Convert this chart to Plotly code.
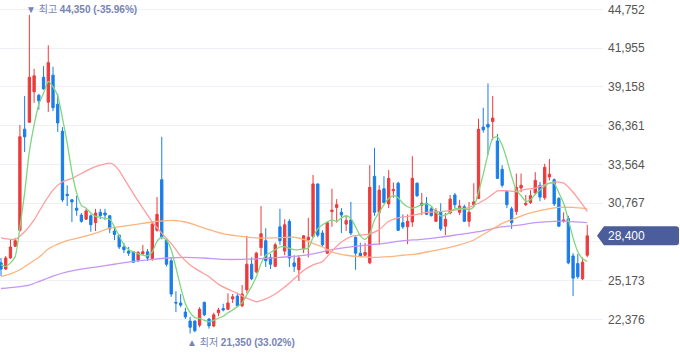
import plotly.graph_objects as go

# ---------------- data ----------------
open_ = [26450, 26000, 26800, 27650, 28800, 36100, 36600, 38800, 38550, 39850,
         38050, 40000, 37900, 35950, 31400, 31000, 30400, 29900, 29600, 29850,
         29350, 30100, 30050, 29850, 28750, 28450, 27600, 27300, 27250, 26650,
         27100, 27250, 26750, 28800, 32450, 28100, 26600, 23600, 23550, 22900,
         22250, 22250, 21950, 23600, 22400, 21900, 22850, 23150, 23100, 23850,
         24050, 23350, 24500, 26350, 25800, 27550, 28050, 26850, 26200, 29050,
         27300, 29450, 26450, 25950, 27450, 28100, 28350, 32150, 28600, 27150,
         30150, 30450, 30100, 29250, 29550, 28300, 27150, 27000, 26450, 32700,
         30100, 31800, 30700, 31650, 32200, 29350, 29050, 29400, 32200, 30600,
         30750, 30350, 29450, 30100, 29100, 30050, 31350, 30100, 30500, 29450,
         30650, 31100, 36250, 36450, 36650, 35250, 33200, 31600, 30350, 30150,
         31850, 30650, 30800, 31500, 32050, 31150, 32650, 32450, 31100, 29450,
         29650, 26950, 26400, 25300, 27000]
high = [26800, 26950, 28100, 28250, 36400, 38500, 44350, 40450, 38650, 40650,
        42150, 40600, 38650, 36250, 32050, 31050, 31300, 30050, 30350, 29950,
        30350, 30350, 30350, 29900, 29050, 28450, 27900, 27600, 27300, 27300,
        27750, 27450, 29400, 31200, 35550, 28100, 26850, 24400, 24200, 23200,
        22550, 22300, 23250, 23650, 22450, 22850, 23200, 23500, 24250, 24200,
        24300, 24850, 28400, 26850, 27250, 30550, 28950, 27100, 27900, 30350,
        29600, 29600, 27000, 27000, 28450, 29700, 32800, 32150, 28800, 29450,
        31800, 31050, 30400, 29850, 30850, 28350, 27900, 27900, 33500, 34750,
        32050, 32700, 33150, 32250, 32300, 29950, 29950, 34150, 32250, 31500,
        31200, 30500, 30400, 30750, 30050, 31350, 31500, 31000, 30650, 30850,
        32200, 36850, 37650, 39400, 38500, 35750, 33500, 31700, 30500, 32900,
        32900, 31350, 31700, 33000, 32300, 33600, 33950, 32550, 31200, 30100,
        29850, 27150, 27100, 26850, 29200]
low = [25500, 25950, 26750, 27600, 28700, 34450, 36550, 38000, 37500, 38950,
       37350, 37400, 35900, 30850, 30550, 29400, 29850, 29350, 29550, 28700,
       28750, 29600, 29550, 28600, 28100, 27450, 27150, 26950, 26450, 26500,
       27050, 26600, 26600, 28700, 28150, 26200, 24000, 22900, 23250, 22400,
       21350, 21450, 21800, 22600, 21700, 21800, 22600, 22950, 23050, 23550,
       23250, 23250, 24250, 25200, 25700, 26950, 26150, 26000, 26150, 27750,
       27000, 26150, 25800, 25150, 27150, 26850, 28250, 28300, 27600, 27100,
       29050, 29350, 28600, 28750, 28450, 25950, 26850, 26950, 26350, 29850,
       27750, 30750, 30400, 31150, 28750, 28900, 27800, 29050, 31200, 29900,
       29900, 29800, 29400, 28750, 28450, 29950, 30400, 29900, 29400, 29050,
       30500, 31050, 35850, 34250, 35300, 32500, 31900, 30400, 28900, 29900,
       31550, 30550, 30700, 31350, 30900, 31000, 32400, 30550, 29050, 29350,
       26350, 24050, 25300, 25200, 26850]
close = [26000, 26800, 27600, 28050, 35550, 35550, 39850, 39950, 38150, 39000,
         40900, 37650, 36550, 31000, 31300, 30850, 30250, 29450, 30200, 29200,
         30050, 29850, 29900, 28900, 28500, 27600, 27400, 27150, 26500, 27200,
         27250, 26800, 29250, 29950, 28300, 26350, 24200, 23550, 23400, 22550,
         21800, 21550, 23100, 22700, 21900, 22700, 23050, 23050, 23550, 24000,
         23350, 24200, 26350, 25300, 27150, 28550, 26600, 26350, 27750, 28050,
         29200, 26800, 26200, 26800, 28400, 28300, 32150, 28450, 27750, 29350,
         30250, 30650, 29900, 29500, 28600, 27150, 26950, 27200, 31900, 30100,
         31700, 30800, 32550, 31750, 28800, 29050, 29450, 32550, 31300, 30750,
         29950, 29850, 30200, 28900, 29600, 31050, 30650, 30550, 29450, 30100,
         30850, 36100, 36050, 36250, 36900, 32550, 32050, 30650, 29350, 31900,
         32050, 30750, 31300, 32400, 31200, 33350, 32850, 30700, 29100, 29550,
         26450, 25350, 25450, 26500, 28400]
candle_idx = list(range(len(close)))

ma5 = [26300, 26200, 26450, 26900, 29000, 31500, 34500, 36400, 37900, 38700,
       39550, 39150, 38500, 36900, 35100, 33000, 31500, 30600, 30400, 30050,
       29800, 29750, 29650, 29600, 29050, 28400, 27750, 27400, 27250, 27100,
       27000, 26950, 27250, 28000, 28300, 28100, 27400, 26100, 24700, 23500,
       22850, 22500, 22450, 22300, 22200, 22300, 22450, 22600, 22850, 23050,
       23300, 23550, 24150, 24750, 25450, 26400, 27000, 27200, 27400, 27600,
       27600, 27500, 27400, 27400, 27450, 27500, 28300, 28900, 29200, 29400,
       29550, 29450, 29700, 29850, 29650, 29050, 28400, 28150, 28550, 29550,
       30100, 30650, 31100, 31300, 31150, 30750, 30500, 30400, 30500, 30650,
       30700, 30550, 30100, 29850, 29900, 30100, 30350, 30400, 30350, 30300,
       30500, 31550, 32850, 34300, 35450, 35550, 34950, 33900, 32700, 31700,
       31300, 30900, 31000, 31400, 31700, 32000, 32200, 32200, 31500, 30750,
       29550, 28250, 27250, 26750, 26550]

ma20_idx = [0, 3, 5, 7, 9, 11, 13, 15, 17, 19, 21, 23, 24, 25, 26, 28, 30, 32, 34,
            36, 38, 40, 42, 44, 46, 48, 50, 52, 54, 56, 58, 60, 62, 64, 66, 68,
            70, 72, 74, 76, 78, 80, 82, 84, 86, 88, 90, 93, 96, 99, 101, 103,
            105, 107, 109, 111, 113, 115, 117, 119, 121, 123, 124]
ma20 = [28250, 28150, 28700, 29550, 30700, 31700, 32300, 32550, 32900, 33250,
        33500, 33650, 33500, 33100, 32550, 31450, 30400, 29400, 28600, 27850,
        26950, 26300, 25850, 25450, 24900, 24550, 24250, 23900, 23650, 23850,
        24200, 24700, 25300, 25900, 26300, 26550, 27300, 27950, 28350, 28450,
        28550, 28850, 29450, 29700, 29800, 29950, 30100, 30150, 30250, 30450,
        30750, 31150, 31650, 31650, 31600, 31750, 31850, 32100, 32300, 32200,
        31550, 30650, 30150]

ma60_idx = [0, 2, 4, 6, 8, 10, 12, 14, 17, 20, 23, 26, 29, 32, 35, 37, 39, 41,
            44, 47, 50, 54, 58, 62, 64, 66, 68, 70, 73, 76, 79, 82, 85, 88, 91,
            94, 97, 100, 102, 104, 106, 109, 112, 115, 118, 121, 124]
ma60 = [25450, 25650, 25950, 26400, 26850, 27450, 27800, 28050, 28300, 28600,
        28950, 29100, 29250, 29400, 29500, 29500, 29400, 29200, 28850, 28550,
        28400, 28250, 28250, 28300, 28150, 27850, 27600, 27250, 27000, 26900,
        26850, 26900, 27000, 27100, 27300, 27500, 27750, 28100, 28500, 28900,
        29300, 29700, 30050, 30300, 30450, 30450, 30350]

ma120_idx = [0, 3, 6, 8, 11, 14, 17, 20, 24, 28, 32, 35, 39, 43, 47, 51, 55, 59,
             63, 66, 70, 74, 78, 82, 85, 89, 93, 97, 101, 105, 109, 113, 117,
             120, 124]
ma120 = [24600, 24700, 24850, 25100, 25500, 25800, 26000, 26150, 26350, 26550,
         26700, 26800, 26850, 26800, 26700, 26700, 26750, 26850, 26950, 27100,
         27400, 27600, 27750, 27900, 28050, 28150, 28300, 28500, 28700, 29000,
         29150, 29350, 29450, 29450, 29350]

y_tickvals = [22376, 25173, 27970, 30767, 33564, 36361, 39158, 41955, 44752]
y_ticktext = ["22,376", "25,173", "", "30,767", "33,564", "36,361", "39,158",
              "41,955", "44,752"]

# ---------------- layout constants ----------------
W, H = 680, 358
PLOT_W = 603
Y_MIN, Y_MAX = 19583, 45423
X_MIN, X_MAX = -0.2115, 127.33

RED = "#ec3b3b"
BLUE = "#1a7de9"
NOTE = "#7684b6"
TAG = "#4b5d9b"

fig = go.Figure()

for xs, ys, col in [(ma120_idx, ma120, "#c596f5"),
                    (ma60_idx, ma60, "#ffb37e"),
                    (ma20_idx, ma20, "#ff9d9d"),
                    (candle_idx, ma5, "#7fd77f")]:
    fig.add_trace(go.Scatter(x=xs, y=ys, mode="lines",
                             line=dict(color=col, width=1.3, shape="spline", smoothing=0.6),
                             hoverinfo="skip", showlegend=False))

fig.add_trace(go.Candlestick(
    x=candle_idx, open=open_, high=high, low=low, close=close,
    increasing=dict(line=dict(color=RED, width=1), fillcolor=RED),
    decreasing=dict(line=dict(color=BLUE, width=1), fillcolor=BLUE),
    whiskerwidth=0, showlegend=False, hoverinfo="skip"))

hi_val = max(high)
hi_i = high.index(hi_val)
lo_val = min(low)
lo_i = low.index(lo_val)
last = close[-1]
hi_pct = (last - hi_val) / hi_val * 100
lo_pct = (last - lo_val) / lo_val * 100

font_family = "Liberation Sans, Arial, 'Noto Sans CJK KR', sans-serif"

annotations = [
    dict(x=hi_i, xref="x", y=1 - 9 / H, yref="paper", xanchor="left", yanchor="middle",
         xshift=-5, showarrow=False,
         text=f"▼ 최고 <b>{hi_val:,} ({hi_pct:.2f}%)</b>",
         font=dict(size=10, color=NOTE, family=font_family)),
    dict(x=lo_i, xref="x", y=1 - 342.5 / H, yref="paper", xanchor="left", yanchor="middle",
         xshift=-5, showarrow=False,
         text=f"▲ 최저 <b>{lo_val:,} ({lo_pct:.2f}%)</b>",
         font=dict(size=10, color=NOTE, family=font_family)),
    dict(x=606 / PLOT_W, xref="paper", y=last, yref="y", xanchor="left", yanchor="middle",
         showarrow=False, text=f"{last:,}",
         font=dict(size=12, color="white", family=font_family)),
]

# price tag (pentagon pointing left)
yc = (last - Y_MIN) / (Y_MAX - Y_MIN)
hh = 9.5 / H
def px(v):
    return v / PLOT_W
r = 3 / PLOT_W
rv = 3 / H
path = (f"M {px(597)},{yc} L {px(604)},{yc + hh} L {px(679) - r},{yc + hh} "
        f"Q {px(679)},{yc + hh} {px(679)},{yc + hh - rv} L {px(679)},{yc - hh + rv} "
        f"Q {px(679)},{yc - hh} {px(679) - r},{yc - hh} L {px(604)},{yc - hh} Z")
shapes = [dict(type="path", xref="paper", yref="paper", path=path,
               fillcolor=TAG, line=dict(width=0), layer="above")]

fig.update_layout(
    width=W, height=H,
    margin=dict(l=0, r=W - PLOT_W, t=0, b=0),
    paper_bgcolor="white", plot_bgcolor="white",
    showlegend=False,
    annotations=annotations, shapes=shapes,
    xaxis=dict(range=[X_MIN, X_MAX], showgrid=False, zeroline=False, showticklabels=False,
               rangeslider=dict(visible=False), fixedrange=True),
    yaxis=dict(range=[Y_MIN, Y_MAX], side="right", tickvals=y_tickvals, ticktext=y_ticktext,
               showgrid=True, gridcolor="#eef0f5", gridwidth=1, zeroline=False,
               ticks="", ticklabelstandoff=4,
               tickfont=dict(size=12, color="#555555", family=font_family),
               fixedrange=True),
)

fig.write_html("out.html", config={"displayModeBar": False},
               post_script="document.body.style.margin='0';document.body.style.padding='0';")
